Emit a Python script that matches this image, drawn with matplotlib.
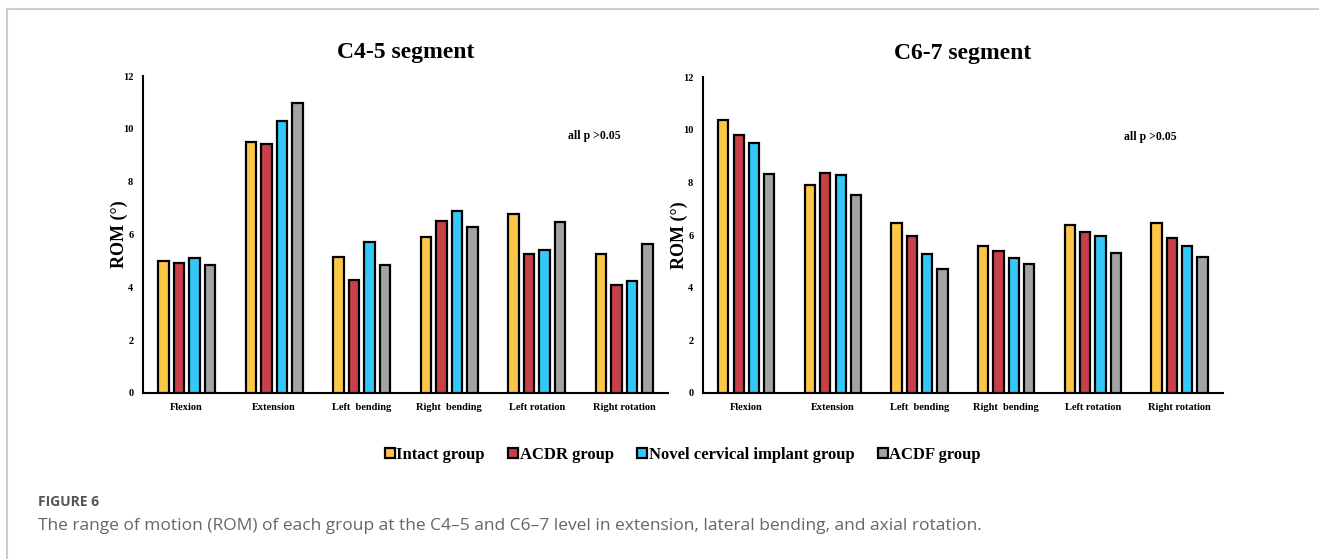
import numpy as np
import matplotlib.pyplot as plt
from matplotlib.lines import Line2D

# ROM values (degrees) per motion, one list per group
motions = ['Flexion', 'Extension', 'Left  bending', 'Right  bending', 'Left rotation', 'Right rotation']
groups = ['Intact group', 'ACDR group', 'Novel cervical implant group', 'ACDF group']
colors = ['#FCC647', '#C7404A', '#33C8F8', '#A3A3A3']

c45_intact = [5.0, 9.51, 5.15, 5.92, 6.79, 5.25]
c45_acdr = [4.92, 9.43, 4.26, 6.50, 5.27, 4.08]
c45_novel = [5.12, 10.31, 5.72, 6.88, 5.40, 4.24]
c45_acdf = [4.86, 10.97, 4.83, 6.27, 6.46, 5.64]

c67_intact = [10.36, 7.90, 6.44, 5.57, 6.37, 6.44]
c67_acdr = [9.80, 8.34, 5.96, 5.40, 6.11, 5.88]
c67_novel = [9.50, 8.28, 5.28, 5.13, 5.96, 5.59]
c67_acdf = [8.32, 7.53, 4.72, 4.91, 5.33, 5.17]

panels = [
    ('C4-5 segment', [c45_intact, c45_acdr, c45_novel, c45_acdf]),
    ('C6-7 segment', [c67_intact, c67_acdr, c67_novel, c67_acdf]),
]

serif = ['Liberation Serif', 'DejaVu Serif']
plt.rcParams['font.family'] = serif

fig = plt.figure(figsize=(13.19, 5.59), dpi=100)
axes_rects = [[0.1084, 0.297, 0.398, 0.567], [0.533, 0.297, 0.394, 0.565]]

x = np.arange(len(motions))
step = 0.177
width = 0.118

for rect, (title, series) in zip(axes_rects, panels):
    ax = fig.add_axes(rect)
    for i, (vals, col) in enumerate(zip(series, colors)):
        ax.bar(x + (i - 1.5) * step, vals, width=width, color=col,
               edgecolor='black', linewidth=1.6, zorder=3)
    ax.set_xlim(-0.5, len(motions) - 0.5)
    ax.set_ylim(0, 12)
    ax.set_yticks(range(0, 13, 2))
    ax.set_yticklabels([str(v) for v in range(0, 13, 2)], fontsize=7.5, fontweight='bold')
    ax.set_xticks(x)
    ax.set_xticklabels(motions, fontsize=7.5, fontweight='bold')
    ax.tick_params(axis='both', length=0, pad=7)
    ax.tick_params(axis='x', pad=7)
    for s in ['top', 'right']:
        ax.spines[s].set_visible(False)
    ax.spines['left'].set_linewidth(1.5)
    ax.spines['bottom'].set_linewidth(1.5)
    ax.set_ylabel('ROM (°)', fontsize=13, fontweight='bold', labelpad=-4)
    ax.set_title(title, fontsize=17, fontweight='bold', pad=13)
    ax.text(0.86, 0.81, 'all p >0.05', transform=ax.transAxes, fontsize=8.5,
            fontweight='bold', ha='center', va='center')

handles = [Line2D([], [], marker='s', linestyle='none', markersize=7,
                  markerfacecolor=c, markeredgecolor='black', markeredgewidth=1.6)
           for c in colors]
fig.legend(handles, groups, loc='center', bbox_to_anchor=(0.517, 0.186), ncol=4,
           frameon=False, handletextpad=0.0, columnspacing=1.3, handlelength=0.8,
           prop={'family': serif, 'weight': 'bold', 'size': 12})

# caption below the panels
fig.text(38 / 1319, 1 - 502 / 559, 'FIGURE 6', fontsize=10, fontweight='bold',
         color='#555555', family=['Open Sans', 'DejaVu Sans'], va='center')
fig.text(38 / 1319, 1 - 526 / 559,
         'The range of motion (ROM) of each group at the C4\u20135 and C6\u20137 level in extension, '
         'lateral bending, and axial rotation.',
         fontsize=12.5, color='#666666', family=['Open Sans', 'DejaVu Sans'], va='center')

# thin frame around the figure box
fig.add_artist(Line2D([7 / 1319, 7 / 1319], [0, 1 - 9 / 559], transform=fig.transFigure,
                      color='#cccccc', linewidth=1.5))
fig.add_artist(Line2D([7 / 1319, 1], [1 - 9 / 559, 1 - 9 / 559], transform=fig.transFigure,
                      color='#cccccc', linewidth=1.5))

fig.savefig('out.png', dpi=100)
